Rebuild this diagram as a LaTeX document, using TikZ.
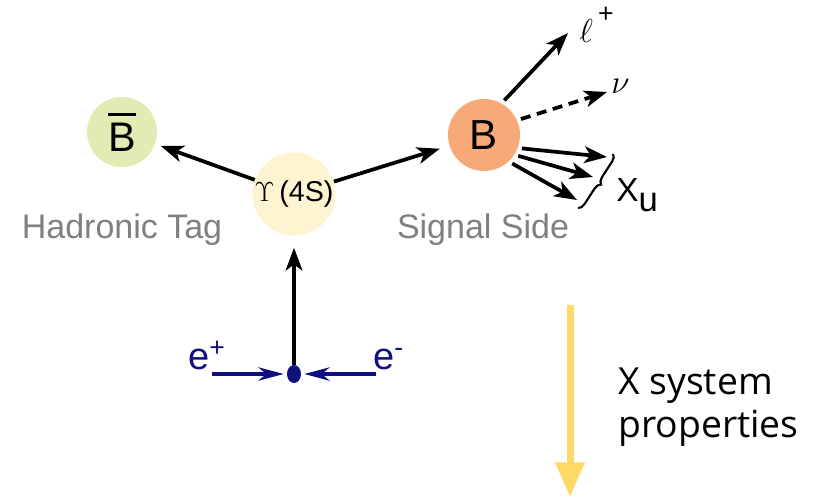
\documentclass[tikz,border=0pt]{standalone}
\usepackage{fontspec}
\setmainfont{Liberation Sans}
\newfontfamily\osans{Open Sans}
\usetikzlibrary{arrows.meta,shapes.geometric,decorations.pathreplacing}
\definecolor{bbarfill}{RGB}{226,235,180}
\definecolor{upsfill}{RGB}{255,244,210}
\definecolor{bfill}{RGB}{248,169,120}
\definecolor{navy}{RGB}{16,16,128}
\definecolor{labgray}{RGB}{128,128,128}
\definecolor{yel}{RGB}{255,217,102}
\begin{document}
\begin{tikzpicture}[x=0.75pt,y=-0.75pt,
  particle/.style={circle,inner sep=0pt},
  blk/.style={line width=2.8pt,-{Stealth[length=17pt,width=12.5pt,inset=4.5pt]}},
  nav/.style={navy,line width=2.6pt,-{Stealth[length=19pt,width=10pt,inset=6pt]}},
  side/.style={labgray,inner sep=0pt,font=\fontsize{25.5}{30}\selectfont},
  lbl/.style={anchor=base west,inner sep=0pt},
]
\useasboundingbox (0,0) rectangle (817,497);
% particles
\node[particle,fill=bbarfill,minimum size=52.5pt,font=\fontsize{31}{36}\selectfont] (Bbar) at (122,132)
  {\vbox{\hrule height 2.2pt\kern 5pt\hbox{B}}};
\node[particle,fill=upsfill,minimum size=58.5pt,font=\fontsize{21.5}{25}\selectfont] (U) at (294,194) {$\Upsilon$\,(4S)};
\node[particle,fill=bfill,minimum size=54pt,font=\fontsize{31.5}{36}\selectfont] (B) at (484,135) {B};
\node[side,anchor=base] (htag) at (122,238) {Hadronic Tag};
\node[side,anchor=base] (sside) at (483,238) {Signal Side};
% beams
\node[ellipse,fill=navy,minimum width=10.5pt,minimum height=13.5pt,inner sep=0pt] (dot) at (294,374) {};
\node[lbl,navy,font=\fontsize{28.5}{34}\selectfont] (ep) at (188,369) {e\textsuperscript{+}};
\node[lbl,navy,font=\fontsize{28.5}{34}\selectfont] (em) at (373,369) {e\textsuperscript{-}};
\coordinate (eps) at (212,374);
\coordinate (ems) at (376,374);
\draw[nav,shorten >=2.25pt] (eps) -- (dot);
\draw[nav,shorten >=2.25pt] (ems) -- (dot);
\draw[blk,shorten >=9pt] (dot) -- (U);
\draw[blk,shorten >=4.5pt] (U) -- (Bbar);
\draw[blk,shorten >=7.5pt] (U) -- (B);
% decay products
\coordinate (lp) at (568,33);
\coordinate (nu) at (607,92);
\coordinate (x1) at (607,157);
\coordinate (x2) at (593,177);
\coordinate (x3) at (577,200);
\draw[blk,shorten <=3pt] (B.61) -- (lp);
\draw[blk,dashed,dash pattern=on 7.5pt off 5pt,shorten <=3pt] (B.24) -- (nu);
\draw[blk,shorten <=3pt] (B.-21) -- (x1);
\draw[blk,shorten <=3pt] (B.-33) -- (x2);
\draw[blk,shorten <=3pt] (B.-47) -- (x3);
\node[lbl,font=\fontsize{23}{28}\selectfont] (ell) at (579,42) {$\ell$\kern4pt\raisebox{15pt}{\fontsize{20}{22}\selectfont +}};
\node[lbl,font=\fontsize{29}{32}\selectfont] (nulab) at (611,93) {$\nu$};
\coordinate (bt) at (613,154);
\coordinate (bb) at (578,208);
\draw[line width=1.6pt,decorate,decoration={brace,amplitude=5pt}] (bt) -- (bb);
\node[lbl,font=\fontsize{25}{28}\selectfont] (xu) at (616,201) {X\raisebox{-8pt}{\fontsize{26}{28}\selectfont u}};
% X system arrow
\coordinate (ys) at (570,305);
\coordinate (ye) at (570,497);
\draw[yel,line width=5.25pt,-{Triangle[length=26pt,width=21pt]}] (ys) -- (ye);
\node[lbl,font=\osans\fontsize{28}{32}\selectfont] (xs1) at (618,394) {X system};
\node[lbl,font=\osans\fontsize{28}{32}\selectfont] (xs2) at (618,437) {properties};
\end{tikzpicture}
\end{document}
